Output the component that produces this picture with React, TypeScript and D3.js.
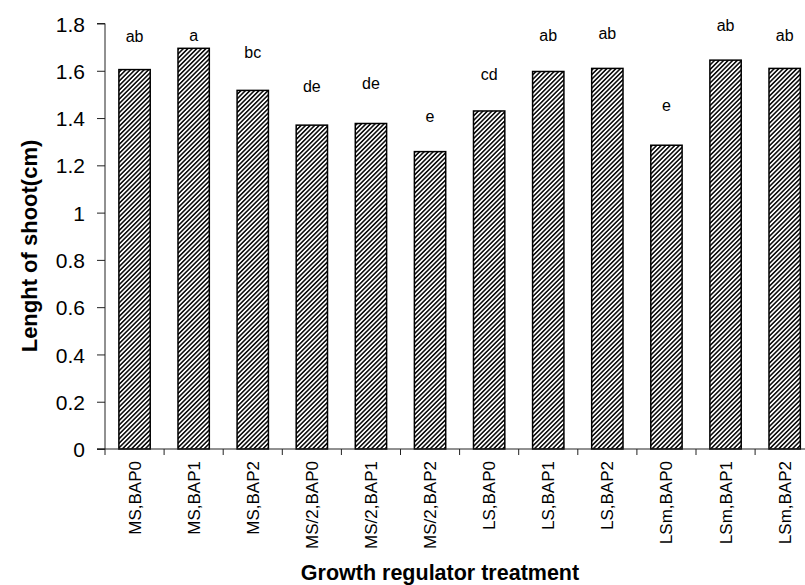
import React, { useRef, useEffect } from "react";
import * as d3 from "d3";

const categories = [
  "MS,BAP0", "MS,BAP1", "MS,BAP2",
  "MS/2,BAP0", "MS/2,BAP1", "MS/2,BAP2",
  "LS,BAP0", "LS,BAP1", "LS,BAP2",
  "LSm,BAP0", "LSm,BAP1", "LSm,BAP2",
];
const values = [1.605, 1.695, 1.517, 1.37, 1.377, 1.258, 1.43, 1.597, 1.61, 1.285, 1.645, 1.61];
const letters = ["ab", "a", "bc", "de", "de", "e", "cd", "ab", "ab", "e", "ab", "ab"];
// height (in axis units) of each letter's baseline
const letterPos = [1.722, 1.726, 1.655, 1.511, 1.522, 1.384, 1.56, 1.725, 1.734, 1.43, 1.769, 1.725];
const yTicks = [0, 0.2, 0.4, 0.6, 0.8, 1, 1.2, 1.4, 1.6, 1.8];

const font = "Arial, 'Liberation Sans', sans-serif";

const App = () => {
  const svgRef = useRef<SVGSVGElement>(null);

  useEffect(() => {
    const width = 805;
    const height = 585;
    const margin = { top: 23.5, left: 105, bottom: 136 };
    const step = 59.1;

    const svg = d3.select(svgRef.current).attr("width", width).attr("height", height);
    svg.selectAll("*").remove();

    // striped fill like the old excel pattern
    const defs = svg.append("defs");
    const pat = defs
      .append("pattern")
      .attr("id", "stripes")
      .attr("patternUnits", "userSpaceOnUse")
      .attr("width", 3.2)
      .attr("height", 3.2)
      .attr("patternTransform", "rotate(45)");
    pat.append("rect").attr("width", 3.2).attr("height", 3.2).attr("fill", "#fff");
    pat.append("rect").attr("width", 1.6).attr("height", 3.2).attr("fill", "#111");

    const xScale = d3
      .scaleBand()
      .domain(categories)
      .range([margin.left, margin.left + step * categories.length])
      .padding(0);

    const y0 = height - margin.bottom;
    const yScale = d3.scaleLinear().domain([0, 1.8]).range([y0, margin.top]);

    const barWidth = xScale.bandwidth() * 0.53;

    // bars
    svg
      .append("g")
      .selectAll("rect")
      .data(values)
      .enter()
      .append("rect")
      .attr("x", (d, i) => xScale(categories[i])! + (xScale.bandwidth() - barWidth) / 2)
      .attr("y", (d) => yScale(d))
      .attr("width", barWidth)
      .attr("height", (d) => y0 - yScale(d))
      .attr("fill", "url(#stripes)")
      .attr("stroke", "#000")
      .attr("stroke-width", 1.5);

    // significance letters
    svg
      .append("g")
      .selectAll("text")
      .data(letters)
      .enter()
      .append("text")
      .attr("x", (d, i) => xScale(categories[i])! + xScale.bandwidth() / 2)
      .attr("y", (d, i) => yScale(letterPos[i]))
      .attr("text-anchor", "middle")
      .style("font-family", font)
      .style("font-size", "16px")
      .attr("fill", "#000")
      .text((d) => d);

    // y axis
    const yAxis = d3.axisLeft(yScale).tickValues(yTicks).tickSize(8).tickPadding(12).tickFormat((d) => String(d));
    const gy = svg.append("g").attr("transform", `translate(${margin.left},0)`).call(yAxis);
    gy.selectAll("path, line").attr("stroke", "#222");
    gy.select(".domain").attr("d", `M-8,${y0}H0V${margin.top}H-8`);
    gy.selectAll("text")
      .attr("fill", "#000")
      .style("font-family", font)
      .style("font-size", "21px")
      .attr("dy", "0.36em");

    // x axis with ticks at band boundaries
    const gx = svg.append("g").attr("transform", `translate(0,${y0})`);
    gx.append("line")
      .attr("x1", margin.left - 8)
      .attr("x2", xScale.range()[1])
      .attr("stroke", "#222");
    gx.selectAll(".tk")
      .data(categories)
      .enter()
      .append("line")
      .attr("class", "tk")
      .attr("x1", (d) => xScale(d)!)
      .attr("x2", (d) => xScale(d)!)
      .attr("y2", 6)
      .attr("stroke", "#222");
    gx.selectAll(".lbl")
      .data(categories)
      .enter()
      .append("text")
      .attr("class", "lbl")
      .attr("transform", (d) => `translate(${xScale(d)! + xScale.bandwidth() / 2 + 6},12) rotate(-90)`)
      .attr("text-anchor", "end")
      .style("font-family", font)
      .style("font-size", "17px")
      .attr("fill", "#000")
      .text((d) => d);

    // titles
    svg
      .append("text")
      .attr("transform", `translate(37,246) rotate(-90)`)
      .attr("text-anchor", "middle")
      .style("font-family", font)
      .style("font-size", "22px")
      .style("font-weight", "bold")
      .text("Lenght of shoot(cm)");

    svg
      .append("text")
      .attr("x", 440)
      .attr("y", 580)
      .attr("text-anchor", "middle")
      .style("font-family", font)
      .style("font-size", "21.5px")
      .style("font-weight", "bold")
      .text("Growth regulator treatment");
  }, []);

  return (
    <div style={{ position: "absolute", left: 0, top: 0 }}>
      <svg ref={svgRef} style={{ display: "block", background: "#fff" }}></svg>
    </div>
  );
};

export default App;
